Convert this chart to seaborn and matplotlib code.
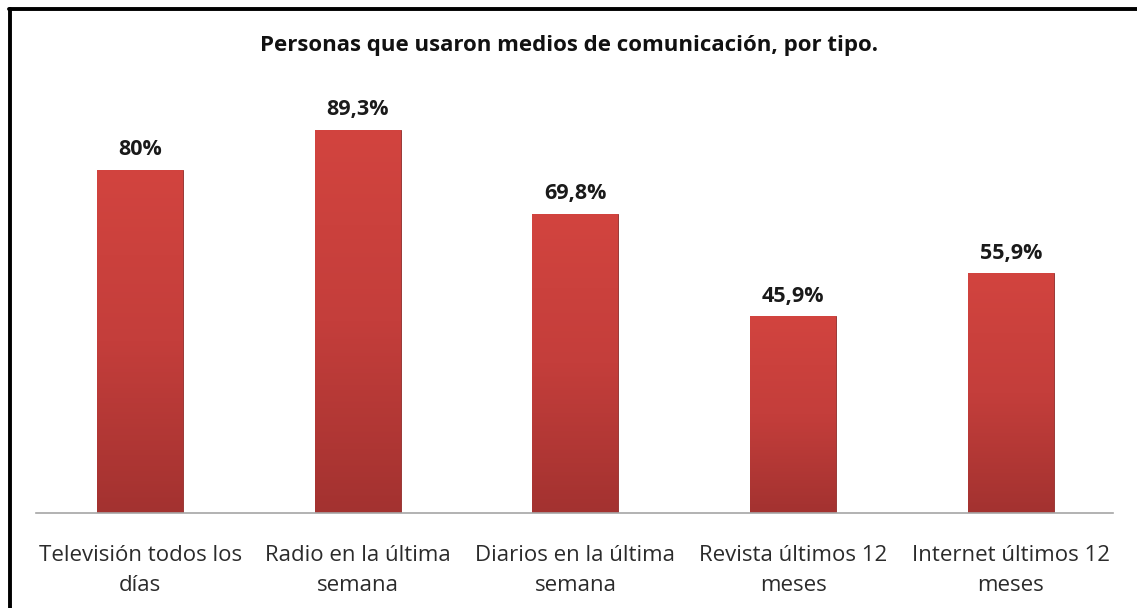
import numpy as np
import pandas as pd
import matplotlib
matplotlib.use("Agg")
import matplotlib.pyplot as plt
from matplotlib.lines import Line2D
from matplotlib.colors import LinearSegmentedColormap
import seaborn as sns

categorias = ["Televisión todos los\ndías", "Radio en la última\nsemana",
              "Diarios en la última\nsemana", "Revista últimos 12\nmeses",
              "Internet últimos 12\nmeses"]
valores = [80, 89.3, 69.8, 45.9, 55.9]
etiquetas = ["80%", "89,3%", "69,8%", "45,9%", "55,9%"]

sns.set_theme(style="white")
plt.rcParams['font.family'] = ['Open Sans', 'DejaVu Sans']

df = pd.DataFrame({"medio": categorias, "pct": valores})

fig = plt.figure(figsize=(11.37, 6.08), dpi=100)
ax = fig.add_axes([36 / 1137, 0.156, 1077 / 1137, 0.706])
sns.barplot(data=df, x="medio", y="pct", color="#c83a36", width=0.395,
            saturation=1, ax=ax)
ax.set_ylim(0, 100)

# vertical gradient on each bar, like the original office chart
cmap = LinearSegmentedColormap.from_list("rojo", ["#a33230", "#c43e3b", "#d2443f"])
grad = np.linspace(0, 1, 256).reshape(-1, 1)
for p in ax.patches:
    x0, y0 = p.get_x(), p.get_y()
    w, h = p.get_width(), p.get_height()
    im = ax.imshow(grad, cmap=cmap, aspect="auto", origin="lower",
                   extent=[x0, x0 + w, y0, y0 + h], zorder=p.get_zorder() + 0.1)
    im.set_clip_path(p)
    p.set_edgecolor("#8e2a28")
    p.set_linewidth(0.6)

for i, (v, t) in enumerate(zip(valores, etiquetas)):
    ax.text(i, v + 2.2, t, ha="center", va="bottom", fontsize=15.5,
            fontweight="bold", color="#1a1a1a")

ax.set_xlim(-0.478, 4.469)
ax.set_xlabel("")
ax.set_ylabel("")
ax.set_yticks([])
ax.tick_params(axis="x", length=0, pad=23, labelsize=16, labelcolor="#2b2b2b")
for lbl in ax.get_xticklabels():
    lbl.set_linespacing(1.55)
for s in ["top", "right", "left"]:
    ax.spines[s].set_visible(False)
ax.spines["bottom"].set_color("#a6a6a6")
ax.spines["bottom"].set_linewidth(1.2)

fig.text(0.5, 0.925, "Personas que usaron medios de comunicación, por tipo.",
         ha="center", va="center", fontsize=16, fontweight="bold", color="#111111")

# frame of the original screenshot (top and left edges)
fig.add_artist(Line2D([0.008, 1.0], [0.985, 0.985], transform=fig.transFigure,
                      color="black", linewidth=2.8))
fig.add_artist(Line2D([0.0088, 0.0088], [0.0, 0.985], transform=fig.transFigure,
                      color="black", linewidth=2.8))

fig.savefig("out.png", dpi=100)
